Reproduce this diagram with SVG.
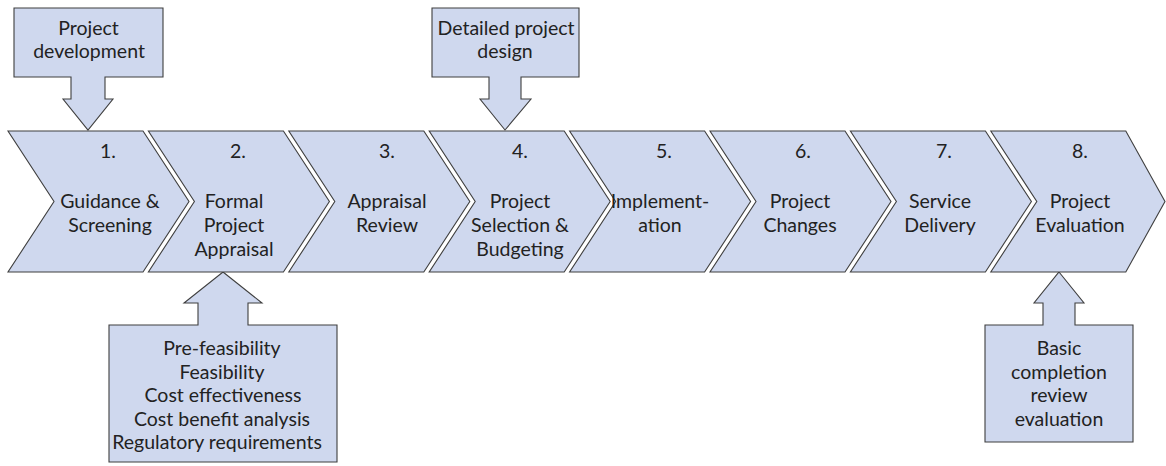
<svg xmlns="http://www.w3.org/2000/svg" width="1166" height="466" viewBox="0 0 1166 466">
<style>
.shape{fill:#CFD8EE;stroke:#3F3F3F;stroke-width:1.1;stroke-linejoin:miter}
text{font-family:Lato,"Open Sans","Liberation Sans",sans-serif;font-size:19.5px;fill:#222222;text-anchor:middle}
</style>
<rect width="1166" height="466" fill="#FFFFFF"/>
<g id="connectors">
<path id="arrow-dev" class="shape" d="M14,8 H163 V77 H105 V99 H113 L88,130 L63,99 H71 V77 H14 Z"/>
<path id="arrow-design" class="shape" d="M432,8 H579 V77 H521 V99 H531 L505,130 L480,99 H489 V77 H432 Z"/>
<path id="arrow-appraisal" class="shape" d="M223,272 L262,303 H248 V325 H337 V462 H109 V325 H198 V303 H184 Z"/>
<path id="arrow-eval" class="shape" d="M1059,272 L1084,303 H1075 V325 H1133 V442 H985 V325 H1043 V303 H1034 Z"/>
</g>
<g id="box-dev"><text x="88.5" y="35">Project</text><text x="89" y="58">development</text></g>
<g id="box-design"><text x="506" y="35">Detailed project</text><text x="505" y="58">design</text></g>
<g id="box-appraisal">
<text x="222" y="355">Pre-feasibility</text>
<text x="222" y="379">Feasibility</text>
<text x="223" y="402">Cost effectiveness</text>
<text x="222" y="426">Cost benefit analysis</text>
<text x="217" y="449">Regulatory requirements</text>
</g>
<g id="box-eval">
<text x="1059" y="355">Basic</text>
<text x="1059" y="379">completion</text>
<text x="1059" y="402">review</text>
<text x="1059" y="426">evaluation</text>
</g>
<g id="step1"><path class="shape" d="M8,131 H143 L189,201.5 L143,272 H8 L54,201.5 Z"/><text x="108" y="158">1.</text><text x="110" y="208">Guidance &amp;</text><text x="110" y="232">Screening</text></g>
<g id="step2"><path class="shape" d="M148.4,131 H283.4 L329.4,201.5 L283.4,272 H148.4 L194.4,201.5 Z"/><text x="238" y="158">2.</text><text x="234" y="208">Formal</text><text x="234" y="232">Project</text><text x="234" y="256">Appraisal</text></g>
<g id="step3"><path class="shape" d="M288.8,131 H423.8 L469.8,201.5 L423.8,272 H288.8 L334.8,201.5 Z"/><text x="387" y="158">3.</text><text x="387" y="208">Appraisal</text><text x="387" y="232">Review</text></g>
<g id="step4"><path class="shape" d="M429.2,131 H564.2 L610.2,201.5 L564.2,272 H429.2 L475.2,201.5 Z"/><text x="520" y="158">4.</text><text x="520" y="208">Project</text><text x="520" y="232">Selection &amp;</text><text x="520" y="256">Budgeting</text></g>
<g id="step5"><path class="shape" d="M569.6,131 H704.6 L750.6,201.5 L704.6,272 H569.6 L615.6,201.5 Z"/><text x="664" y="158">5.</text><text x="660" y="208">Implement-</text><text x="660" y="232">ation</text></g>
<g id="step6"><path class="shape" d="M710,131 H845 L891,201.5 L845,272 H710 L756,201.5 Z"/><text x="803" y="158">6.</text><text x="800" y="208">Project</text><text x="800" y="232">Changes</text></g>
<g id="step7"><path class="shape" d="M850.4,131 H985.4 L1031.4,201.5 L985.4,272 H850.4 L896.4,201.5 Z"/><text x="944" y="158">7.</text><text x="940" y="208">Service</text><text x="940" y="232">Delivery</text></g>
<g id="step8"><path class="shape" d="M990.8,131 H1125.8 L1165,201.5 L1125.8,272 H990.8 L1036.8,201.5 Z"/><text x="1080" y="158">8.</text><text x="1080" y="208">Project</text><text x="1080" y="232">Evaluation</text></g>
</svg>
